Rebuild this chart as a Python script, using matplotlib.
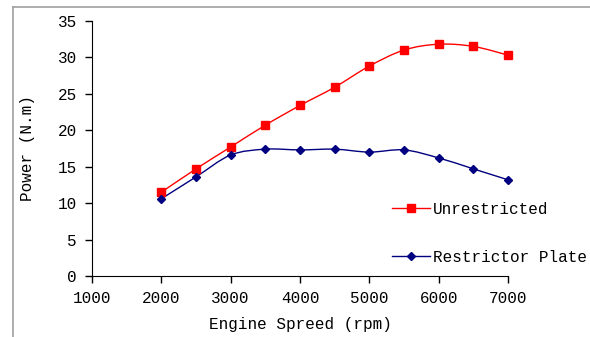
import matplotlib.pyplot as plt
from matplotlib.path import Path
from matplotlib.patches import PathPatch
from matplotlib.lines import Line2D

rpm = [2000, 2500, 3000, 3500, 4000, 4500, 5000, 5500, 6000, 6500, 7000]
unrestricted = [11.5, 14.7, 17.7, 20.7, 23.4, 25.9, 28.8, 31.0, 31.8, 31.5, 30.3]
restrictor = [10.6, 13.6, 16.6, 17.4, 17.3, 17.4, 17.0, 17.3, 16.2, 14.7, 13.2]

plt.rcParams['font.family'] = ['Liberation Mono', 'DejaVu Sans Mono']
plt.rcParams['font.size'] = 11.5


# smooth line through the points (like Excel "smoothed line")
def smooth_path(xs, ys):
    n = len(xs)
    verts = [(xs[0], ys[0])]
    codes = [Path.MOVETO]
    for i in range(n - 1):
        x0, y0 = xs[max(i - 1, 0)], ys[max(i - 1, 0)]
        x1, y1 = xs[i], ys[i]
        x2, y2 = xs[i + 1], ys[i + 1]
        x3, y3 = xs[min(i + 2, n - 1)], ys[min(i + 2, n - 1)]
        c1 = (x1 + (x2 - x0) / 6, y1 + (y2 - y0) / 6)
        c2 = (x2 - (x3 - x1) / 6, y2 - (y3 - y1) / 6)
        verts += [c1, c2, (x2, y2)]
        codes += [Path.CURVE4] * 3
    return Path(verts, codes)


fig = plt.figure(figsize=(5.9, 3.37), dpi=100)
ax = fig.add_axes([0.156, 0.181, 0.705, 0.757])

styles = [(unrestricted, '#FF0000', 's', 5.5), (restrictor, '#000080', 'D', 4.5)]
for ys, col, mk, ms in styles:
    ax.add_patch(PathPatch(smooth_path(rpm, ys), fill=False, edgecolor=col, lw=1))
    ax.plot(rpm, ys, linestyle='none', marker=mk, color=col, markersize=ms, clip_on=False)

ax.set_xlim(1000, 7000)
ax.set_ylim(0, 35)
ax.set_xticks(range(1000, 7001, 1000))
ax.set_yticks(range(0, 36, 5))
ax.spines['top'].set_visible(False)
ax.spines['right'].set_visible(False)
ax.tick_params(direction='out', length=5, width=1, color='black', pad=6)
ax.set_xlabel('Engine Spreed (rpm)', labelpad=8)
ax.set_ylabel('Power (N.m)', labelpad=16)

handles = [Line2D([], [], color=c, marker=m, markersize=s, lw=1) for _, c, m, s in styles]
fig.legend(handles, ['Unrestricted', 'Restrictor Plate'], frameon=False,
           loc='upper left', bbox_to_anchor=(0.653, 0.421), borderaxespad=0,
           labelspacing=2.1, handlelength=2.4, handletextpad=0.2)

# gray frame around the chart area
fig.add_artist(Line2D([0.022, 0.022], [0, 0.979], color='#A0A0A0', lw=1.2, transform=fig.transFigure))
fig.add_artist(Line2D([0.022, 1], [0.979, 0.979], color='#A0A0A0', lw=1.2, transform=fig.transFigure))

fig.savefig('out.png', dpi=100)
